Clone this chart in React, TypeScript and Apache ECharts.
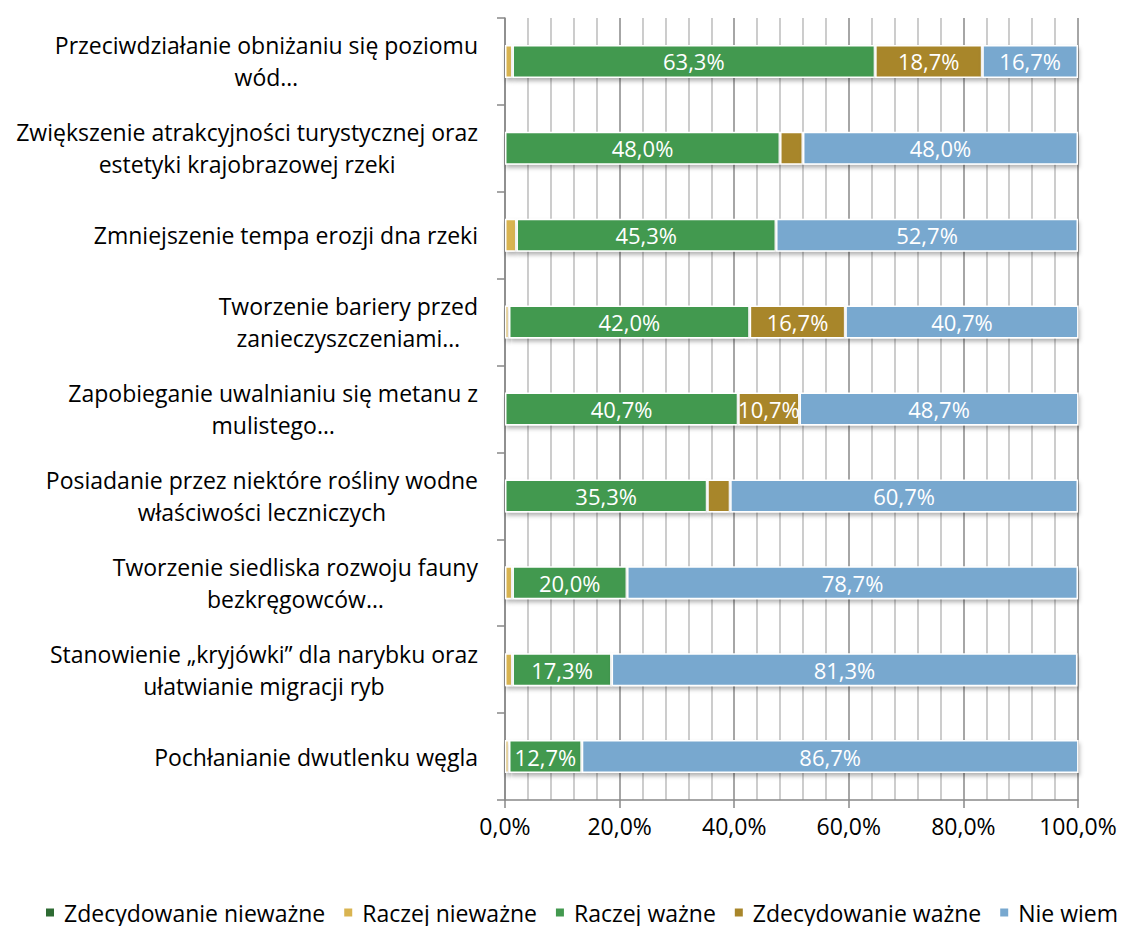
import React, { useEffect, useRef } from 'react';
import * as echarts from 'echarts';

const categories = [
  'Przeciwdziałanie obniżaniu się poziomu\nwód…',
  'Zwiększenie atrakcyjności turystycznej oraz\nestetyki krajobrazowej rzeki',
  'Zmniejszenie tempa erozji dna rzeki',
  'Tworzenie bariery przed\nzanieczyszczeniami…',
  'Zapobieganie uwalnianiu się metanu z\nmulistego…',
  'Posiadanie przez niektóre rośliny wodne\nwłaściwości leczniczych',
  'Tworzenie siedliska rozwoju fauny\nbezkręgowców…',
  'Stanowienie „kryjówki” dla narybku oraz\nułatwianie migracji ryb',
  'Pochłanianie dwutlenku węgla',
];

const seriesNames = [
  'Zdecydowanie nieważne',
  'Raczej nieważne',
  'Raczej ważne',
  'Zdecydowanie ważne',
  'Nie wiem',
];

const zdecydowanieNiewazne = [0, 0, 0, 0, 0, 0, 0, 0, 0];
const raczejNiewazne = [1.3, 0, 2.0, 0.7, 0, 0, 1.3, 1.3, 0.7];
const raczejWazne = [63.3, 48.0, 45.3, 42.0, 40.7, 35.3, 20.0, 17.3, 12.7];
const zdecydowanieWazne = [18.7, 4.0, 0, 16.7, 10.7, 4.0, 0, 0, 0];
const nieWiem = [16.7, 48.0, 52.7, 40.7, 48.7, 60.7, 78.7, 81.3, 86.7];

const seriesValues = [zdecydowanieNiewazne, raczejNiewazne, raczejWazne, zdecydowanieWazne, nieWiem];
const seriesColors = ['#2E6B33', '#D9B451', '#43994F', '#A8862A', '#78A8CF'];

const FONT = '"Open Sans", sans-serif';
const fmt = (v: number) => v.toFixed(1).replace('.', ',') + '%';

export default function App() {
  const ref = useRef<HTMLDivElement>(null);
  useEffect(() => {
    document.body.style.margin = '0';
    const chart = echarts.init(ref.current!, null, { renderer: 'svg' });
    chart.setOption({
      animation: false,
      backgroundColor: '#fff',
      textStyle: { fontFamily: FONT },
      grid: { left: 505, top: 18, width: 573, height: 782, containLabel: false },
      legend: {
        data: seriesNames,
        left: 39,
        top: 896,
        width: 3000,
        icon: 'rect',
        itemWidth: 10,
        itemHeight: 10,
        itemGap: 17,
        textStyle: { fontFamily: FONT, fontSize: 23, color: '#000', padding: [0, 0, 0, 4] },
      },
      xAxis: {
        type: 'value',
        min: 0,
        max: 100,
        interval: 20,
        axisLine: { show: true, lineStyle: { color: '#888888', width: 1.5 } },
        axisTick: { show: true, length: 8, lineStyle: { color: '#888888', width: 1.5 } },
        axisLabel: { formatter: (v: number) => fmt(v), fontFamily: FONT, fontSize: 23, color: '#000', margin: 14 },
        splitLine: { show: true, lineStyle: { color: '#888888', width: 1.5 } },
        minorTick: { show: false, splitNumber: 5 },
        minorSplitLine: { show: true, lineStyle: { color: '#c0c0c0', width: 1.6 } },
      },
      yAxis: {
        type: 'category',
        inverse: true,
        data: categories,
        axisLine: { show: true, lineStyle: { color: '#888888', width: 1.5 } },
        axisTick: { show: true, length: 8, lineStyle: { color: '#888888', width: 1.5 } },
        axisLabel: {
          margin: 27,
          formatter: (v: string) => v.split('\n').map((l) => `{c|${l}}`).join('\n'),
          rich: { c: { align: 'center', fontFamily: FONT, fontSize: 23, lineHeight: 32, color: '#000' } },
        },
      },
      series: seriesNames.map((name, i) => ({
        name,
        type: 'bar',
        stack: 'total',
        barWidth: 33,
        data: seriesValues[i],
        itemStyle: {
          color: seriesColors[i],
          borderColor: '#ffffff',
          borderWidth: 1.5,
          shadowBlur: 4,
          shadowOffsetX: 1,
          shadowOffsetY: 3,
          shadowColor: 'rgba(0,0,0,0.3)',
        },
        label: {
          show: true,
          position: 'inside',
          color: '#fff',
          fontFamily: FONT,
          fontSize: 22,
          formatter: (p: any) => (p.value >= 8 ? fmt(p.value) : ''),
        },
      })),
    });
    return () => chart.dispose();
  }, []);
  return <div ref={ref} style={{ width: 1123, height: 926 }} />;
}
